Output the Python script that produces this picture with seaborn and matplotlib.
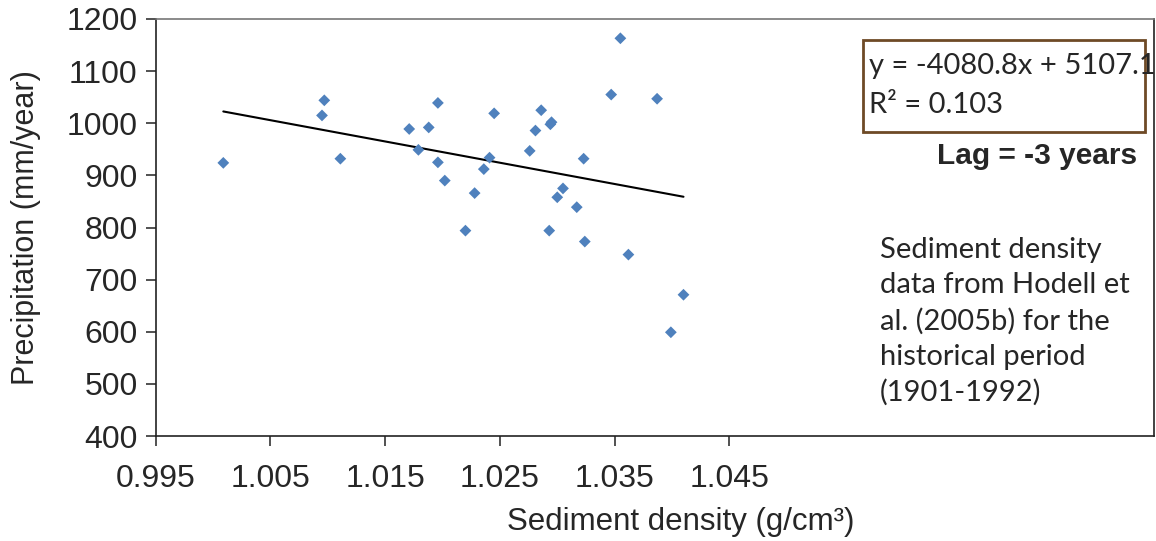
import matplotlib
matplotlib.use("Agg")
import matplotlib.pyplot as plt
from matplotlib.patches import Rectangle
import seaborn as sns
import pandas as pd

# Sediment density (g/cm3) and precipitation (mm/year), lag = -3 years
density = [1.0009, 1.0097, 1.0095, 1.0111, 1.0171, 1.0188, 1.0196, 1.0179,
           1.0196, 1.0202, 1.0220, 1.0228, 1.0236, 1.0241, 1.0245, 1.0276,
           1.0281, 1.0286, 1.0294, 1.0295, 1.0293, 1.0300, 1.0305, 1.0317,
           1.0323, 1.0324, 1.0347, 1.0355, 1.0362, 1.0387, 1.0410, 1.0399]
precip = [924, 1044, 1015, 932, 989, 992, 1039, 949,
          925, 890, 794, 866, 912, 934, 1019, 947,
          986, 1025, 998, 1002, 794, 858, 875, 839,
          932, 773, 1055, 1163, 748, 1047, 671, 599]

# Linear trend reported for the fit
slope = -4080.8
intercept = 5107.1
r_squared = 0.103

x_ticks = [0.995, 1.005, 1.015, 1.025, 1.035, 1.045]
y_ticks = [400, 500, 600, 700, 800, 900, 1000, 1100, 1200]

sns.set_theme(style="white")
plt.rcParams["font.family"] = ["Liberation Sans", "DejaVu Sans"]

fig = plt.figure(figsize=(11.56, 5.41), dpi=100)
ax = fig.add_axes([155.6 / 1156, 1 - 436 / 541, (1154 - 155.6) / 1156, (436 - 19) / 541])

df = pd.DataFrame({"density": density, "precip": precip})
sns.scatterplot(data=df, x="density", y="precip", marker="D", s=36,
                color="#4F81BD", edgecolor="none", linewidth=0, ax=ax, zorder=3)

x_fit = [min(density), max(density)]
trend = pd.DataFrame({"x": x_fit, "y": [slope * v + intercept for v in x_fit]})
sns.lineplot(data=trend, x="x", y="y", color="black", linewidth=1.5, ax=ax, zorder=2)

ax.set_xlim(0.995, 1.082)
ax.set_ylim(400, 1200)
ax.set_xticks(x_ticks)
ax.set_xticklabels([f"{t:.3f}" for t in x_ticks])
ax.set_yticks(y_ticks)
ax.set_yticklabels([str(t) for t in y_ticks])
ax.tick_params(axis="both", which="major", labelsize=23, direction="out",
               width=1.1, color="#222222", left=True, bottom=True)
ax.tick_params(axis="x", length=7.5, pad=13)
ax.tick_params(axis="y", length=7, pad=6)

for name, sp in ax.spines.items():
    sp.set_visible(True)
    sp.set_linewidth(1.2)
    sp.set_color("#222222")
ax.spines["top"].set_color("#777777")

ax.set_ylabel("Precipitation (mm/year)", fontsize=22, labelpad=18)
ax.set_xlabel("Sediment density (g/cm³)", fontsize=22.5)
ax.xaxis.set_label_coords(0.526, -0.17)

# Equation box
fig.patches.append(Rectangle((863 / 1156, 1 - 132 / 541), (1145 - 863) / 1156, (132 - 40) / 541,
                             transform=fig.transFigure, fill=False,
                             edgecolor="#6E4A26", linewidth=2.0))
eq_font = ["Lato", "DejaVu Sans"]
fig.text(869 / 1156, 1 - 66 / 541, f"y = {slope}x + {intercept}",
         family=eq_font, fontsize=21, va="center", ha="left")
fig.text(869 / 1156, 1 - 105 / 541, f"R² = {r_squared}",
         family=eq_font, fontsize=21, va="center", ha="left")

fig.text(1137 / 1156, 1 - 156 / 541, "Lag = -3 years", fontsize=21.5,
         fontweight="bold", va="center", ha="right")

note = "Sediment density\ndata from Hodell et\nal. (2005b) for the\nhistorical period\n(1901-1992)"
fig.text(880 / 1156, 1 - 321.5 / 541, note, family=eq_font, fontsize=21,
         va="center", ha="left", linespacing=1.43)

fig.savefig("out.png", dpi=100, facecolor="white")
